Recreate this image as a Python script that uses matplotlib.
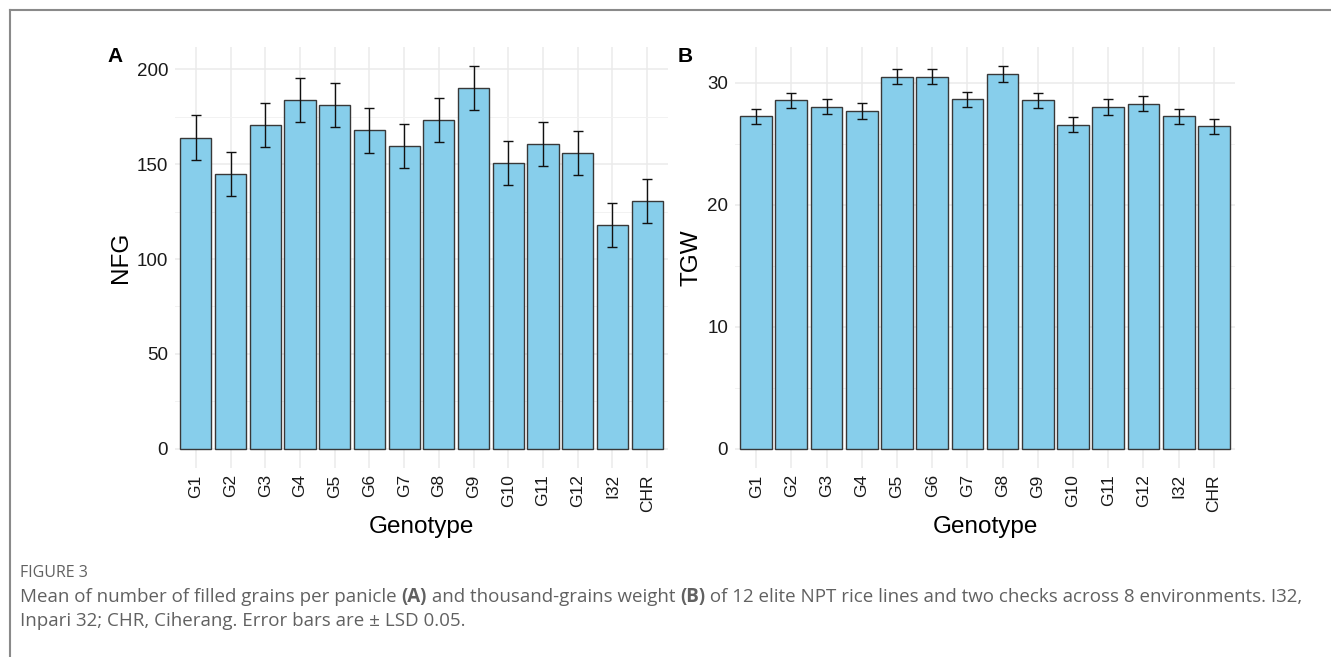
import matplotlib
matplotlib.use("Agg")
import matplotlib.pyplot as plt
from matplotlib.lines import Line2D
import numpy as np

plt.rcParams['font.family'] = ['Liberation Sans', 'DejaVu Sans']

genotypes = ['G1', 'G2', 'G3', 'G4', 'G5', 'G6', 'G7', 'G8', 'G9', 'G10',
             'G11', 'G12', 'I32', 'CHR']
nfg = [164.0, 145.0, 170.5, 183.8, 181.0, 167.7, 159.6, 173.0, 190.0,
       150.5, 160.5, 155.8, 118.0, 130.7]
nfg_lsd = 11.6
tgw = [27.24, 28.55, 28.03, 27.67, 30.49, 30.49, 28.63, 30.71, 28.55,
       26.56, 27.98, 28.28, 27.24, 26.42]
tgw_lsd = 0.63

W, H = 1331, 657
fig = plt.figure(figsize=(W / 100, H / 100), dpi=100)


def px_axes(left, top, right, bottom):
    return fig.add_axes([left / W, 1 - bottom / H, (right - left) / W, (bottom - top) / H])


def panel(ax, vals, lsd, ylabel, major, minor):
    x = np.arange(len(genotypes))
    ax.set_axisbelow(True)
    ax.bar(x, vals, width=0.9, color='#87CEEB', edgecolor='#383838', linewidth=1.0, zorder=2)
    ax.errorbar(x, vals, yerr=lsd, fmt='none', ecolor='#111111', elinewidth=1.0,
                capsize=3.5, capthick=1.0, zorder=3)
    top = max(v + lsd for v in vals)
    ax.set_ylim(-0.05 * top, 1.05 * top)
    ax.set_xlim(-0.6, len(genotypes) - 0.4)
    ax.set_xticks(x)
    ax.set_xticklabels(genotypes, rotation=90, fontsize=12.5, color='#1a1a1a')
    ax.set_yticks(major)
    ax.set_yticks(minor, minor=True)
    ax.tick_params(axis='y', labelsize=13.5, labelcolor='#1a1a1a', length=0, pad=5)
    ax.tick_params(axis='x', length=0, pad=4.5)
    ax.tick_params(which='minor', length=0)
    ax.grid(True, which='major', color='#EBEBEB', linewidth=1.1)
    ax.grid(True, which='minor', axis='y', color='#F2F2F2', linewidth=0.7)
    for s in ax.spines.values():
        s.set_visible(False)
    ax.set_xlabel('Genotype', fontsize=17.5, labelpad=3)
    ax.set_ylabel(ylabel, fontsize=17.5, labelpad=3)


axA = px_axes(175, 47, 668, 468)
panel(axA, nfg, nfg_lsd, 'NFG', [0, 50, 100, 150, 200], [25, 75, 125, 175])
axB = px_axes(735, 47, 1235, 468)
panel(axB, tgw, tgw_lsd, 'TGW', [0, 10, 20, 30], [5, 15, 25])

fig.text(115 / W, 1 - 56 / H, 'A', fontsize=15, fontweight='bold', ha='center', va='center')
fig.text(685 / W, 1 - 56 / H, 'B', fontsize=15, fontweight='bold', ha='center', va='center')

# frame around the figure
fig.add_artist(Line2D([9.5 / W, 9.5 / W], [0, 1 - 10 / H], color='#8a8a8a', linewidth=1.5))
fig.add_artist(Line2D([9.5 / W, 1], [1 - 10 / H, 1 - 10 / H], color='#8a8a8a', linewidth=1.5))

# caption
cap_color = '#616161'
cap_font = ['Open Sans', 'DejaVu Sans']
fig.text(20 / W, 1 - 573 / H, 'FIGURE 3', fontsize=11.5, color=cap_color,
         family=cap_font, va='center')

line1 = [('Mean of number of filled grains per panicle ', 'normal'), ('(A)', 'bold'),
         (' and thousand-grains weight ', 'normal'), ('(B)', 'bold'),
         (' of 12 elite NPT rice lines and two checks across 8 environments. I32,', 'normal')]
line2 = [('Inpari 32; CHR, Ciherang. Error bars are \u00b1 LSD 0.05.', 'normal')]

fig.canvas.draw()
renderer = fig.canvas.get_renderer()
for ypix, parts in [(597, line1), (621, line2)]:
    xpix = 20
    for txt, wt in parts:
        t = fig.text(xpix / W, 1 - ypix / H, txt, fontsize=13.5, color=cap_color,
                     family=cap_font, fontweight=wt, va='center')
        bb = t.get_window_extent(renderer=renderer)
        xpix += bb.width

fig.savefig('out.png', dpi=100)
